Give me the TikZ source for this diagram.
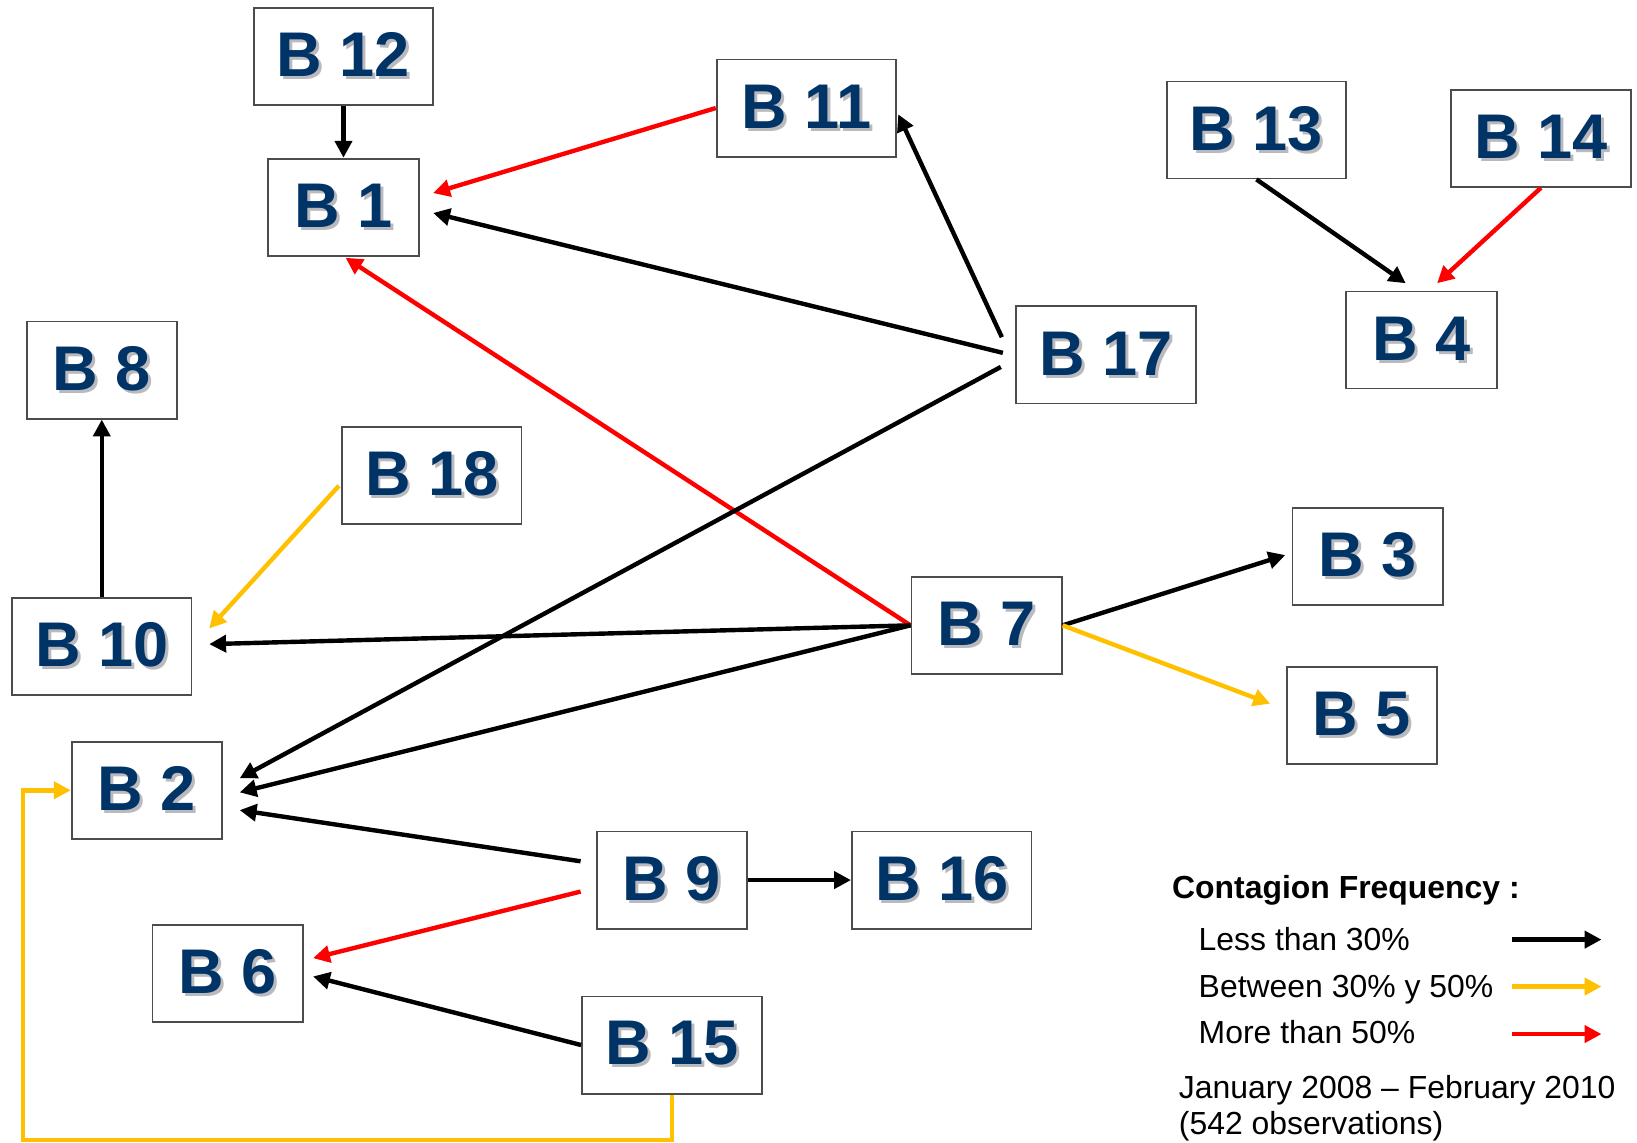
\documentclass[tikz,border=0pt]{standalone}
\usepackage{fontspec}
\setmainfont{Liberation Sans}
\usetikzlibrary{arrows.meta}

\definecolor{banknavy}{RGB}{0,51,102}
\definecolor{amber}{RGB}{255,192,0}
\definecolor{shade}{RGB}{185,185,190}
\newcommand{\bankfont}{\fontsize{17.2}{20}\selectfont\bfseries}
\newcommand{\legendfont}{\fontsize{8.7}{10.5}\selectfont}
\newcommand{\bank}[1]{\makebox[0pt][l]{\kern0.8pt\raisebox{-0.8pt}{\color{shade}B #1}}B #1}

\begin{document}
\begin{tikzpicture}
            [x=0.1mm, y=-0.1mm, >={Triangle[length=4.6pt,width=4.6pt]},
             bank/.style={draw=black!70, line width=0.5pt, fill=white, inner sep=0pt, minimum height=9.3mm, text=banknavy, font=\bankfont},
             wide/.style={bank, minimum width=17.2mm},
             narrow/.style={bank, minimum width=14.4mm},
             low/.style={->, line width=1.2pt, draw=black},
             mid/.style={->, line width=1.2pt, draw=amber},
             high/.style={->, line width=1.2pt, draw=red},
             legend/.style={anchor=base west, inner sep=0pt, font=\legendfont}]
            \useasboundingbox (0, 0) rectangle (1568, 1094);

            \node[wide] (b12) at (329, 54) {\bank{12}};
            \node[narrow] (b1) at (329, 198.5) {\bank{1}};
            \node[wide] (b11) at (772.5, 103.5) {\bank{11}};
            \node[wide] (b13) at (1203.5, 124.5) {\bank{13}};
            \node[wide] (b14) at (1476, 132.5) {\bank{14}};
            \node[narrow] (b4) at (1361.5, 325.7) {\bank{4}};
            \node[wide] (b17) at (1059.5, 340) {\bank{17}};
            \node[narrow] (b8) at (97.5, 354.5) {\bank{8}};
            \node[wide] (b18) at (413.5, 455.3) {\bank{18}};
            \node[narrow] (b3) at (1310, 533.2) {\bank{3}};
            \node[narrow] (b7) at (945, 599) {\bank{7}};
            \node[wide] (b10) at (97.5, 619) {\bank{10}};
            \node[narrow] (b5) at (1304.5, 685) {\bank{5}};
            \node[narrow] (b2) at (140.7, 757) {\bank{2}};
            \node[narrow] (b9) at (643.5, 843) {\bank{9}};
            \node[wide] (b16) at (902, 843) {\bank{16}};
            \node[narrow] (b6) at (218, 932.3) {\bank{6}};
            \node[wide] (b15) at (643.5, 1001) {\bank{15}};

            \path (b12.south) edge[low] (b1.north);
            \path (b11.west) edge[high] ([shift={(13,-13.5)}]b1.east);
            \path ([shift={(-12,-2)}]b17.west) edge[low] ([shift={(13,5.5)}]b1.east);
            \path ([shift={(-13,-17)}]b17.west) edge[low] ([shift={(1,6)}]b11.east);
            \path (b7.west) edge[high] ([shift={(2,1)}]b1.south);
            \path ([shift={(-14,11.5)}]b17.west) edge[low] ([shift={(16,-11.5)}]b2.east);
            \path (b7.west) edge[low] ([shift={(16,2)}]b2.east);
            \path ([shift={(-14.5,-18)}]b9.west) edge[low] ([shift={(16,19)}]b2.east);
            \path (b7.west) edge[low] ([shift={(16,-2)}]b10.east);
            \path ([shift={(-2,10)}]b18.west) edge[mid] ([shift={(16,-17)}]b10.east);
            \path (b10.north) edge[low] (b8.south);
            \path (b7.east) edge[low] ([shift={(-6,-1.5)}]b3.west);
            \path (b7.east) edge[mid] ([shift={(-15,-11)}]b5.west);
            \path ([shift={(-14.5,11)}]b9.west) edge[high] ([shift={(9,-14.5)}]b6.east);
            \path (b9.east) edge[low] (b16.west);
            \path (b15.west) edge[low] ([shift={(9,3)}]b6.east);
            \path (b13.south) edge[low] ([shift={(-15,-7)}]b4.north);
            \path (b14.south) edge[high] ([shift={(15,-7)}]b4.north);

            \coordinate (loop) at (22, 1092);
            \draw[mid] (b15.south) |- (loop) |- (b2.west);

            \node[legend, font=\legendfont\bfseries] (legtitle) at (1122, 861) {Contagion Frequency :};
            \node[legend] (legless) at (1147.5, 910) {Less than 30\%};
            \node[legend] (legmid) at (1147.5, 955) {Between 30\% y 50\%};
            \node[legend] (legmore) at (1147.5, 1000) {More than 50\%};
            \node[legend] (legperiod) at (1128.5, 1052) {January 2008 – February 2010};
            \node[legend] (legobs) at (1128.5, 1087) {(542 observations)};

            \coordinate (lowa) at (1448, 900);
            \coordinate (lowb) at (1534, 900);
            \coordinate (mida) at (1448, 945);
            \coordinate (midb) at (1534, 945);
            \coordinate (higha) at (1448, 990.5);
            \coordinate (highb) at (1534, 990.5);
            \path (lowa) edge[low] (lowb);
            \path (mida) edge[mid] (midb);
            \path (higha) edge[high] (highb);
        \end{tikzpicture}
\end{document}
